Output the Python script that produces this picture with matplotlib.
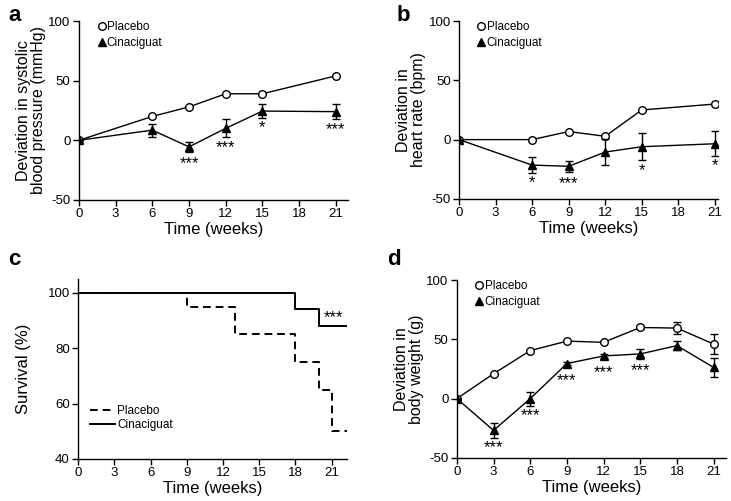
import matplotlib
matplotlib.use("Agg")
import matplotlib.pyplot as plt
from matplotlib.lines import Line2D

plt.rcParams['font.family'] = ['Liberation Sans', 'DejaVu Sans']
plt.rcParams['axes.linewidth'] = 1.0

# panel a: systolic blood pressure
weeks_a = [0, 6, 9, 12, 15, 21]
bp_placebo = [0, 20, 28, 39, 39, 54]
bp_cina = [0, 8.5, -5.5, 10, 24.5, 24]
bp_cina_err = [0, 5.5, 4, 7.5, 6, 6.5]
bp_stars = ['', '', '***', '***', '*', '***']

# panel b: heart rate
weeks_b = [0, 6, 9, 12, 15, 21]
hr_placebo = [0, 0, 6.8, 2.8, 25, 30]
hr_cina = [0, -21.5, -22.5, -10.5, -6, -3.5]
hr_cina_err = [0, 6.5, 4.5, 11, 11.5, 10.5]
hr_stars = ['', '*', '***', '', '*', '*']

# panel c: survival
surv_t_placebo = [0, 9, 13, 18, 20, 21, 22.3]
surv_placebo = [100, 95, 85, 75, 65, 50, 50]
surv_t_cina = [0, 18, 20, 22.3]
surv_cina = [100, 94, 88, 88]

# panel d: body weight
weeks_d = [0, 3, 6, 9, 12, 15, 18, 21]
bw_placebo = [0, 21, 40.5, 48.5, 47.5, 60, 59.5, 46]
bw_placebo_err = [0, 0, 0, 0, 0, 1.5, 5.3, 8.2]
bw_cina = [0, -26.8, 0, 29.6, 36, 37.7, 44.7, 26.3]
bw_cina_err = [0, 6.3, 6, 1, 1.5, 4.5, 4, 7.7]
bw_stars = ['', '***', '***', '***', '***', '***', '', '']

fig = plt.figure(figsize=(7.31, 5.01), dpi=100)
ax_a = fig.add_axes([0.108, 0.601, 0.368, 0.357])
ax_b = fig.add_axes([0.628, 0.603, 0.354, 0.355])
ax_c = fig.add_axes([0.107, 0.084, 0.368, 0.359])
ax_d = fig.add_axes([0.625, 0.086, 0.368, 0.355])


def style(ax):
    ax.spines['top'].set_visible(False)
    ax.spines['right'].set_visible(False)
    ax.tick_params(direction='out', length=4, width=1, labelsize=9.5, pad=2)
    ax.set_xlabel('Time (weeks)', fontsize=12, labelpad=1)


def line_panel(ax, x, plac, cina, cerr, stars, perr=None, xmax=22, ylabel=''):
    ax.errorbar(x, plac, yerr=perr, color='black', lw=1, marker='o', ms=5.5,
                mfc='white', mec='black', mew=1, capsize=3, elinewidth=1,
                label='Placebo', zorder=3)
    ax.errorbar(x, cina, yerr=cerr, color='black', lw=1, marker='^', ms=6,
                mfc='black', mec='black', capsize=3, elinewidth=1,
                label='Cinaciguat', zorder=4)
    for xi, yi, ei, s in zip(x, cina, cerr, stars):
        if s:
            ax.text(xi, min(yi - ei, yi - 6) - 2, s, ha='center', va='top',
                    fontsize=12)
    ax.set_xlim(0, xmax)
    ax.set_ylim(-50, 100)
    ax.set_xticks([0, 3, 6, 9, 12, 15, 18, 21])
    ax.set_yticks([-50, 0, 50, 100])
    ax.set_yticklabels(['-50', '0', '50', '100'])
    ax.set_ylabel(ylabel, fontsize=11.5, linespacing=1.0, labelpad=2)
    style(ax)
    handles = [Line2D([], [], ls='none', marker='o', ms=5.5, mfc='white', mec='black'),
               Line2D([], [], ls='none', marker='^', ms=6, mfc='black', mec='black')]
    ax.legend(handles, ['Placebo', 'Cinaciguat'], loc='upper left',
              bbox_to_anchor=(0.04, 1.045), frameon=False, fontsize=8.5,
              handlelength=0.6, handletextpad=0.15, labelspacing=0.3,
              borderpad=0.2)


line_panel(ax_a, weeks_a, bp_placebo, bp_cina, bp_cina_err, bp_stars,
           xmax=22, ylabel='Deviation in systolic\nblood pressure (mmHg)')
line_panel(ax_b, weeks_b, hr_placebo, hr_cina, hr_cina_err, hr_stars,
           xmax=21.25, ylabel='Deviation in\nheart rate (bpm)')
line_panel(ax_d, weeks_d, bw_placebo, bw_cina, bw_cina_err, bw_stars,
           perr=bw_placebo_err, xmax=22, ylabel='Deviation in\nbody weight (g)')

# survival
ax_c.step(surv_t_placebo, surv_placebo, where='post', color='black', lw=1.4,
          ls=(0, (4, 2.5)), label='Placebo')
ax_c.step(surv_t_cina, surv_cina, where='post', color='black', lw=1.4,
          label='Cinaciguat')
ax_c.text(21.2, surv_cina[-1] + 0.3, '***', ha='center', va='bottom', fontsize=12)
ax_c.set_xlim(0, 22.3)
ax_c.set_ylim(40, 105)
ax_c.set_xticks([0, 3, 6, 9, 12, 15, 18, 21])
ax_c.set_yticks([40, 60, 80, 100])
ax_c.set_ylabel('Survival (%)', fontsize=12, labelpad=12)
style(ax_c)
ax_c.legend(loc='lower left', bbox_to_anchor=(0.005, 0.095), frameon=False,
            fontsize=8.5, handlelength=2.1, handletextpad=0.2, labelspacing=0.2)

# panel letters
for label, x, y in [('a', 0.011, 0.99), ('b', 0.543, 0.99),
                    ('c', 0.011, 0.503), ('d', 0.529, 0.503)]:
    fig.text(x, y, label, fontsize=16, fontweight='bold', va='top', ha='left')

fig.savefig('out.png', dpi=100)
